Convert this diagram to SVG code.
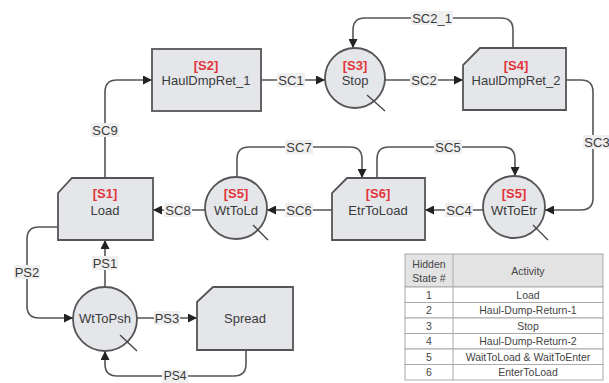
<svg xmlns="http://www.w3.org/2000/svg" width="609" height="383" viewBox="0 0 609 383">
<style>
.nd{fill:#e4e6ea;stroke:#555;stroke-width:1.8}
.tk{stroke:#444;stroke-width:1.3}
.cn{fill:none;stroke:#555;stroke-width:1.6}
.nt{font-family:"Liberation Sans",Arial,sans-serif;font-size:13px;fill:#3a3a3a;text-anchor:middle}
.st{font-family:"Liberation Sans",Arial,sans-serif;font-size:13px;font-weight:bold;fill:#e3343a;text-anchor:middle}
.lb{fill:#efefef}
.cl{font-family:"Liberation Sans",Arial,sans-serif;font-size:13px;fill:#3a3a3a;text-anchor:middle;dominant-baseline:central}
.tb{fill:#fff;stroke:#aaa;stroke-width:1}
.th{fill:#e3e3e3;stroke:#aaa;stroke-width:1}
.tt{font-family:"Liberation Sans",Arial,sans-serif;font-size:10.5px;fill:#444;text-anchor:middle;dominant-baseline:central}
</style>
<defs>
<marker id="ah" viewBox="0 0 10 10" refX="10" refY="5" markerWidth="9" markerHeight="9" markerUnits="userSpaceOnUse" orient="auto">
<path d="M0,0 L10,5 L0,10 Z" fill="#222"/>
</marker>
</defs>
<rect width="609" height="383" fill="#fff"/>

<g id="connectors">
<path class="cn" d="M105,178 V92 Q105,80 117,80 H152" marker-end="url(#ah)"/>
<path class="cn" d="M261,80 H325" marker-end="url(#ah)"/>
<path class="cn" d="M385,80 H463" marker-end="url(#ah)"/>
<path class="cn" d="M513,48 V30 Q513,18 501,18 H365 Q353,18 353,30 V48" marker-end="url(#ah)"/>
<path class="cn" d="M566,80 H581 Q593,80 593,92 V198 Q593,210 581,210 H545" marker-end="url(#ah)"/>
<path class="cn" d="M377,178 V159 Q377,147 389,147 H503 Q515,147 515,159 V176" marker-end="url(#ah)"/>
<path class="cn" d="M237,177 V159 Q237,147 249,147 H350 Q362,147 362,159 V178" marker-end="url(#ah)"/>
<path class="cn" d="M483,210 H425" marker-end="url(#ah)"/>
<path class="cn" d="M332,210 H267" marker-end="url(#ah)"/>
<path class="cn" d="M205,210 H153" marker-end="url(#ah)"/>
<path class="cn" d="M105,287 V240" marker-end="url(#ah)"/>
<path class="cn" d="M58,227 H39 Q27,227 27,239 V306 Q27,318 39,318 H73" marker-end="url(#ah)"/>
<path class="cn" d="M137,318 H197" marker-end="url(#ah)"/>
<path class="cn" d="M246,350 V364 Q246,376 234,376 H117 Q105,376 105,364 V351" marker-end="url(#ah)"/>

<rect class="lb" x="91" y="123" width="28" height="14"/><text class="cl" x="105" y="130">SC9</text>
<rect class="lb" x="277" y="73" width="28" height="14"/><text class="cl" x="291" y="80">SC1</text>
<rect class="lb" x="410" y="73" width="28" height="14"/><text class="cl" x="424" y="80">SC2</text>
<rect class="lb" x="411" y="11" width="42" height="14"/><text class="cl" x="432" y="18">SC2_1</text>
<rect class="lb" x="583" y="135" width="28" height="14"/><text class="cl" x="597" y="142">SC3</text>
<rect class="lb" x="434" y="140" width="28" height="14"/><text class="cl" x="448" y="147">SC5</text>
<rect class="lb" x="285" y="140" width="28" height="14"/><text class="cl" x="299" y="147">SC7</text>
<rect class="lb" x="445" y="203" width="28" height="14"/><text class="cl" x="459" y="210">SC4</text>
<rect class="lb" x="285" y="203" width="28" height="14"/><text class="cl" x="299" y="210">SC6</text>
<rect class="lb" x="164" y="203" width="28" height="14"/><text class="cl" x="178" y="210">SC8</text>
<rect class="lb" x="92" y="256" width="26" height="14"/><text class="cl" x="105" y="263">PS1</text>
<rect class="lb" x="14" y="265" width="26" height="14"/><text class="cl" x="27" y="272">PS2</text>
<rect class="lb" x="154" y="311" width="26" height="14"/><text class="cl" x="167" y="318">PS3</text>
<rect class="lb" x="162" y="370" width="26" height="13"/><text class="cl" x="175" y="376" style="font-size:12px">PS4</text>
</g>

<g id="S2">
<rect class="nd" x="152" y="49" width="109" height="62"/>
<text class="st" x="206" y="70">[S2]</text>
<text class="nt" x="206" y="85">HaulDmpRet_1</text>
</g>

<g id="S3">
<circle class="nd" cx="355" cy="78" r="30"/>
<line class="tk" x1="367" y1="95" x2="385" y2="111"/>
<text class="st" x="355" y="70">[S3]</text>
<text class="nt" x="355" y="85">Stop</text>
</g>

<g id="S4">
<path class="nd" d="M480,48 H566 V110 H463 V65 Z"/>
<text class="st" x="516" y="70">[S4]</text>
<text class="nt" x="516" y="85">HaulDmpRet_2</text>
</g>

<g id="S5b">
<circle class="nd" cx="514" cy="207" r="31"/>
<line class="tk" x1="533" y1="225" x2="548" y2="240"/>
<text class="st" x="514" y="198">[S5]</text>
<text class="nt" x="514" y="215">WtToEtr</text>
</g>

<g id="S6">
<path class="nd" d="M347,178 H425 V240 H332 V193 Z"/>
<text class="st" x="378" y="198">[S6]</text>
<text class="nt" x="378" y="215">EtrToLoad</text>
</g>

<g id="S5a">
<circle class="nd" cx="236" cy="208" r="31"/>
<line class="tk" x1="253" y1="225" x2="268" y2="240"/>
<text class="st" x="236" y="198">[S5]</text>
<text class="nt" x="236" y="215">WtToLd</text>
</g>

<g id="S1">
<path class="nd" d="M72,178 H153 V240 H58 V193 Z"/>
<text class="st" x="105" y="198">[S1]</text>
<text class="nt" x="105" y="215">Load</text>
</g>

<g id="WtToPsh">
<circle class="nd" cx="105" cy="319" r="32"/>
<line class="tk" x1="120" y1="335" x2="137" y2="351"/>
<text class="nt" x="105" y="323">WtToPsh</text>
</g>

<g id="Spread">
<path class="nd" d="M213,287 H293 V350 H197 V302 Z"/>
<text class="nt" x="245" y="323">Spread</text>
</g>

<g id="table">
<rect class="th" x="405" y="254" width="198" height="33"/>
<line class="th" x1="453" y1="254" x2="453" y2="287"/>
<rect class="tb" x="405" y="287" width="198" height="15.5"/>
<rect class="tb" x="405" y="302.5" width="198" height="15.5"/>
<rect class="tb" x="405" y="318" width="198" height="15.5"/>
<rect class="tb" x="405" y="333.5" width="198" height="15.5"/>
<rect class="tb" x="405" y="349" width="198" height="15.5"/>
<rect class="tb" x="405" y="364.5" width="198" height="15.5"/>
<line class="tb" x1="453" y1="287" x2="453" y2="380"/>
<text class="tt" x="429" y="264">Hidden</text>
<text class="tt" x="429" y="278">State #</text>
<text class="tt" x="528" y="271">Activity</text>
<text class="tt" x="429" y="295">1</text><text class="tt" x="528" y="295">Load</text>
<text class="tt" x="429" y="310">2</text><text class="tt" x="528" y="310">Haul-Dump-Return-1</text>
<text class="tt" x="429" y="326">3</text><text class="tt" x="528" y="326">Stop</text>
<text class="tt" x="429" y="341">4</text><text class="tt" x="528" y="341">Haul-Dump-Return-2</text>
<text class="tt" x="429" y="357">5</text><text class="tt" x="528" y="357">WaitToLoad &amp; WaitToEnter</text>
<text class="tt" x="429" y="372">6</text><text class="tt" x="528" y="372">EnterToLoad</text>
</g>
</svg>
